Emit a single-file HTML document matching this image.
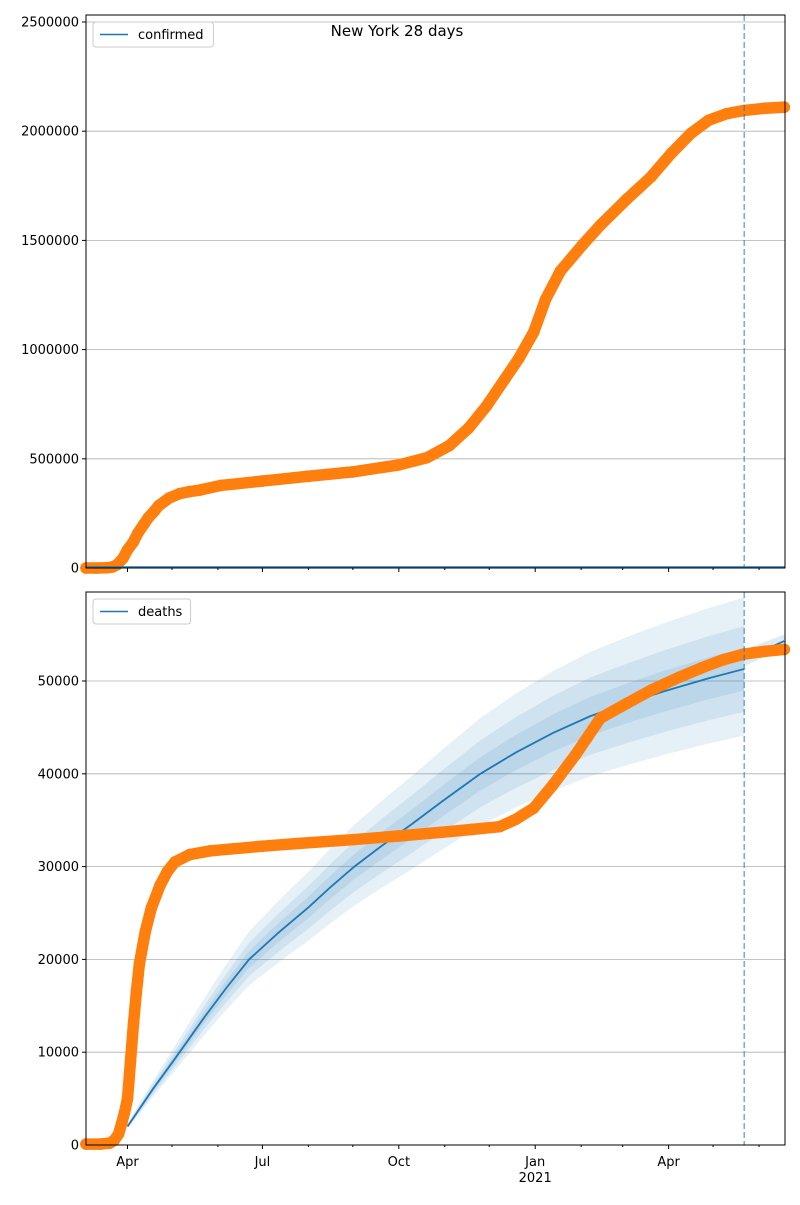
<!DOCTYPE html>
<html><head><meta charset="utf-8"><style>
body{margin:0;background:#fff;font-family:"Liberation Sans","DejaVu Sans",sans-serif}
svg text{font-family:"DejaVu Sans","Liberation Sans",sans-serif;font-size:13px;fill:#000}
</style></head><body>
<svg id="fig" width="800" height="1200" xmlns="http://www.w3.org/2000/svg"></svg>
<script>
// days since 2020-03-04
const confDays = [0,7,14,18,21,25,28,32,35,39,42,46,49,53,56,63,70,77,91,119,150,180,211,230,245,258,270,282,292,302,310,320,335,347,365,381,395,408,420,432,444,458,471];
const confVals = [0,0,1,5,15,45,83,120,160,200,230,260,285,305,320,340,350,357,378,398,420,440,472,505,560,640,740,860,960,1080,1230,1360,1480,1570,1690,1790,1900,1990,2050,2080,2095,2105,2110]; // thousands
const deathDays = [0,10,16,19,22,24,26,28,30,32,34,36,40,44,50,55,60,70,84,119,144,180,211,240,260,279,290,302,315,330,347,365,381,400,415,430,444,458,471];
const deathVals = [0.1,0.1,0.2,0.5,1.2,2.3,3.5,5,9,13,16.5,19.5,23,25.5,28,29.5,30.5,31.3,31.7,32.2,32.5,32.9,33.3,33.7,34,34.3,35.1,36.3,38.8,42,46,47.6,49,50.4,51.4,52.3,52.9,53.2,53.4]; // thousands
const fcDays = [28,45,60,80,95,110,130,150,165,181,200,220,240,266,290,315,340,365,390,420,444];
const fcMed  = [2,6,9.3,13.8,17,20,22.9,25.6,27.8,30,32.3,34.6,37,40,42.3,44.4,46.2,47.6,48.9,50.3,51.3];
const fcLo1  = [1.72,5.16,8.0,11.87,14.62,17.2,19.69,22.02,23.91,25.8,27.78,29.76,31.82,34.4,36.38,38.18,39.73,40.94,42.05,43.26,44.12];
const fcHi1  = [2.3,6.9,10.7,15.87,19.55,23,26.34,29.44,31.97,34.5,37.15,39.79,42.55,46,48.65,51.06,53.13,54.74,56.24,57.85,59.0];
const fcLo2  = [1.82,5.46,8.46,12.56,15.47,18.2,20.84,23.3,25.3,27.3,29.39,31.49,33.67,36.4,38.49,40.4,42.04,43.32,44.5,45.77,46.68];
const fcHi2  = [2.18,6.54,10.14,15.04,18.53,21.8,24.96,27.9,30.3,32.7,35.21,37.71,40.33,43.6,46.11,48.4,50.36,51.88,53.3,54.83,55.92];
const fcLo3  = [1.91,5.73,8.88,13.18,16.24,19.1,21.87,24.45,26.55,28.65,30.85,33.04,35.34,38.2,40.4,42.4,44.12,45.46,46.7,48.04,48.99];
const fcHi3  = [2.09,6.27,9.72,14.42,17.77,20.9,23.93,26.75,29.05,31.35,33.75,36.16,38.67,41.8,44.2,46.4,48.28,49.74,51.1,52.56,53.61];
const extDays = [444,471];
const extMed = [52.4,54.3], extLo=[51.6,53.6], extHi=[53.4,55.0];
const topTicks = [0,500000,1000000,1500000,2000000,2500000];
const botTicks = [0,10000,20000,30000,40000,50000];
const monthTicks = [28,119,211,303,393]; const monthLabels=["Apr","Jul","Oct","Jan","Apr"];
const minorTicks = [58,89,150,180,242,272,334,362,423,454];
const cutoffDay = 444;

const NS="http://www.w3.org/2000/svg", svg=document.getElementById('fig');
const X0=86,X1=785, D0=0,D1=471.5;
const x=d=>X0+(d-D0)/(D1-D0)*(X1-X0);
const yT=v=>568-v/2500000*546;
const yB=v=>1145-v/50000*464;
function mk(t,a,p){const e=document.createElementNS(NS,t);for(const k in a)e.setAttribute(k,a[k]);(p||svg).appendChild(e);return e;}

function axes(top,bot,ticks,yf,name){
  const g=mk('g',{});
  
  
  ticks.forEach(t=>{const yy=yf(t);
    if(t>0){const gl=mk('line',{x1:X0,x2:X1,y1:yy,y2:yy,stroke:'#b0b0b0','stroke-width':0.8},g);
    }
    mk('line',{x1:X0-4,x2:X0,y1:yy,y2:yy,stroke:'#000'},g);
    const tx=mk('text',{x:X0-7,y:yy+4.5,'text-anchor':'end'},g);tx.textContent=t;
    });
  return g;
}
function frame(top,bot){mk('rect',{x:X0,y:top,width:X1-X0,height:bot-top,fill:'none',stroke:'#000','stroke-width':1});
  monthTicks.forEach(d=>mk('line',{x1:x(d),x2:x(d),y1:bot,y2:bot+4,stroke:'#000'}));
  minorTicks.forEach(d=>mk('line',{x1:x(d),x2:x(d),y1:bot,y2:bot+2,stroke:'#000'}));
}
function poly(dd,vv,yf){return dd.map((d,i)=>x(d)+','+yf(vv[i])).join(' ');}
function band(dd,lo,hi,yf,op,name){const pts=dd.map((d,i)=>x(d)+','+yf(hi[i])).concat(dd.slice().reverse().map((d,j)=>{const i=dd.length-1-j;return x(d)+','+yf(lo[i]);}));
  const p=mk('polygon',{points:pts.join(' '),fill:'#1f77b4','fill-opacity':op});
  }
function dots(dd,vv,yf,name){
  const l=mk('polyline',{points:poly(dd,vv,yf),fill:'none',stroke:'#ff7f0e','stroke-width':11.5,'stroke-linecap':'round','stroke-linejoin':'round'});
  
  dd.forEach((d,i)=>{const c=mk('circle',{cx:x(d),cy:yf(vv[i]),r:5.8,fill:'#ff7f0e'});
    });
}
function legend(top,label,name){const g=mk('g',{});
  
  const w=label.length*7.6+52;
  mk('rect',{x:93,y:top+7,width:w,height:25,rx:3,fill:'#fff','fill-opacity':0.8,stroke:'#ccc'},g);
  mk('line',{x1:100,x2:128,y1:top+19.5,y2:top+19.5,stroke:'#1f77b4','stroke-width':1.5},g);
  const t=mk('text',{x:138,y:top+24},g);t.textContent=label;}

// top panel
axes(15,568,topTicks,yT,'top-y-axis');
const cp=[];confDays.forEach((d,i)=>cp.push(confVals[i]*1000));
dots(confDays,cp,yT,'confirmed-observed');
mk('line',{x1:X0,x2:X1,y1:567,y2:567,stroke:'#1f77b4','stroke-width':1.5});
let cl=mk('line',{x1:x(cutoffDay),x2:x(cutoffDay),y1:15,y2:568,stroke:'#1f77b4','stroke-opacity':0.6,'stroke-width':1.5,'stroke-dasharray':'6,3'});

frame(15,568);
legend(15,'confirmed','confirmed-legend');
const tt=mk('text',{x:397,y:36,'text-anchor':'middle'});tt.style.fontSize='15px';tt.textContent='New York 28 days';


// bottom panel
axes(592,1145,botTicks,yB,'bottom-y-axis');
const k=a=>a.map(v=>v*1000);
band(fcDays,k(fcLo1),k(fcHi1),yB,0.11,'forecast-band-outer');
band(fcDays,k(fcLo2),k(fcHi2),yB,0.11,'forecast-band-middle');
band(fcDays,k(fcLo3),k(fcHi3),yB,0.11,'forecast-band-inner');
band(extDays,k(extLo),k(extHi),yB,0.15,'extension-band');
let ml=mk('polyline',{points:poly(fcDays,k(fcMed),yB),fill:'none',stroke:'#1f77b4','stroke-width':1.8});

mk('polyline',{points:poly(extDays,k(extMed),yB),fill:'none',stroke:'#1f77b4','stroke-width':1.8});
dots(deathDays,k(deathVals),yB,'deaths-observed');
cl=mk('line',{x1:x(cutoffDay),x2:x(cutoffDay),y1:592,y2:1145,stroke:'#1f77b4','stroke-opacity':0.6,'stroke-width':1.5,'stroke-dasharray':'6,3'});

frame(592,1145);
legend(592,'deaths','deaths-legend');
monthTicks.forEach((d,i)=>{const t=mk('text',{x:x(d),y:1166,'text-anchor':'middle'});t.textContent=monthLabels[i];
  });
const yr=mk('text',{x:x(303),y:1182,'text-anchor':'middle'});yr.textContent='2021';

</script>
</body></html>
